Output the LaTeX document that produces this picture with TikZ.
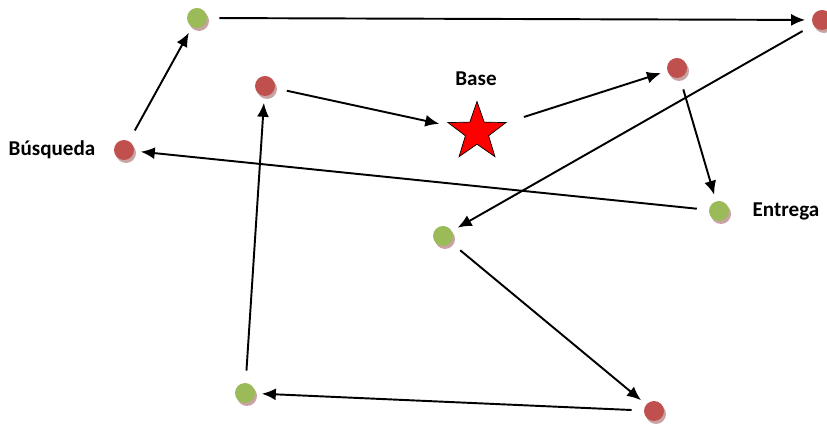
\documentclass[tikz,border=0pt]{standalone}
\usepackage{fontspec}
\setmainfont{Carlito}
\usetikzlibrary{arrows.meta,shapes.geometric,shadows}
\definecolor{ptgreen}{HTML}{9BBB59}
\definecolor{ptred}{HTML}{C0504D}
\definecolor{ptshadow}{HTML}{C9A3A3}
\tikzset{
  spot/.style={circle,minimum size=4mm,inner sep=0pt,
    general shadow={fill=ptshadow,shadow xshift=0.4mm,shadow yshift=-0.6mm}},
  pick/.style={spot,fill=ptred},
  drop/.style={spot,fill=ptgreen},
  tag/.style={font=\bfseries\fontsize{12}{14}\selectfont}
}
\begin{document}
\begin{tikzpicture}[x=0.2mm,y=-0.2mm]
  \useasboundingbox (0,0) rectangle (827,427);
  \node[drop] (g1) at (197,18) {};
  \node[pick] (r1) at (822,20) {};
  \node[pick] (r2) at (265,86) {};
  \node[pick] (r3) at (677,68) {};
  \node[pick] (r4) at (124,150) {};
  \node[drop] (g2) at (719,211) {};
  \node[drop] (g3) at (443,236) {};
  \node[drop] (g4) at (245,393) {};
  \node[pick] (r5) at (654,411) {};
  \node[star,star points=5,star point ratio=2.5,draw=black,fill=red,
    minimum size=12.2mm,inner sep=0pt] (base) at (477,132) {};
  \node[tag] (lbase) at (476,79) {Base};
  \node[tag] (lbusq) at (52,150) {Búsqueda};
  \node[tag] (lentr) at (786,211) {Entrega};
  \path[-{Latex[length=2.8mm,width=2.4mm]},line width=1.1pt,
        shorten <=2.4mm,shorten >=1.3mm]
    (r4) edge (g1)
    (g1) edge (r1)
    (r1) edge (g3)
    (g3) edge (r5)
    (r5) edge (g4)
    (g4) edge (r2)
    (r2) edge [shorten >=2.8mm] (base)
    (base) edge [shorten <=3.6mm] (r3)
    (r3) edge (g2)
    (g2) edge (r4);
\end{tikzpicture}
\end{document}
